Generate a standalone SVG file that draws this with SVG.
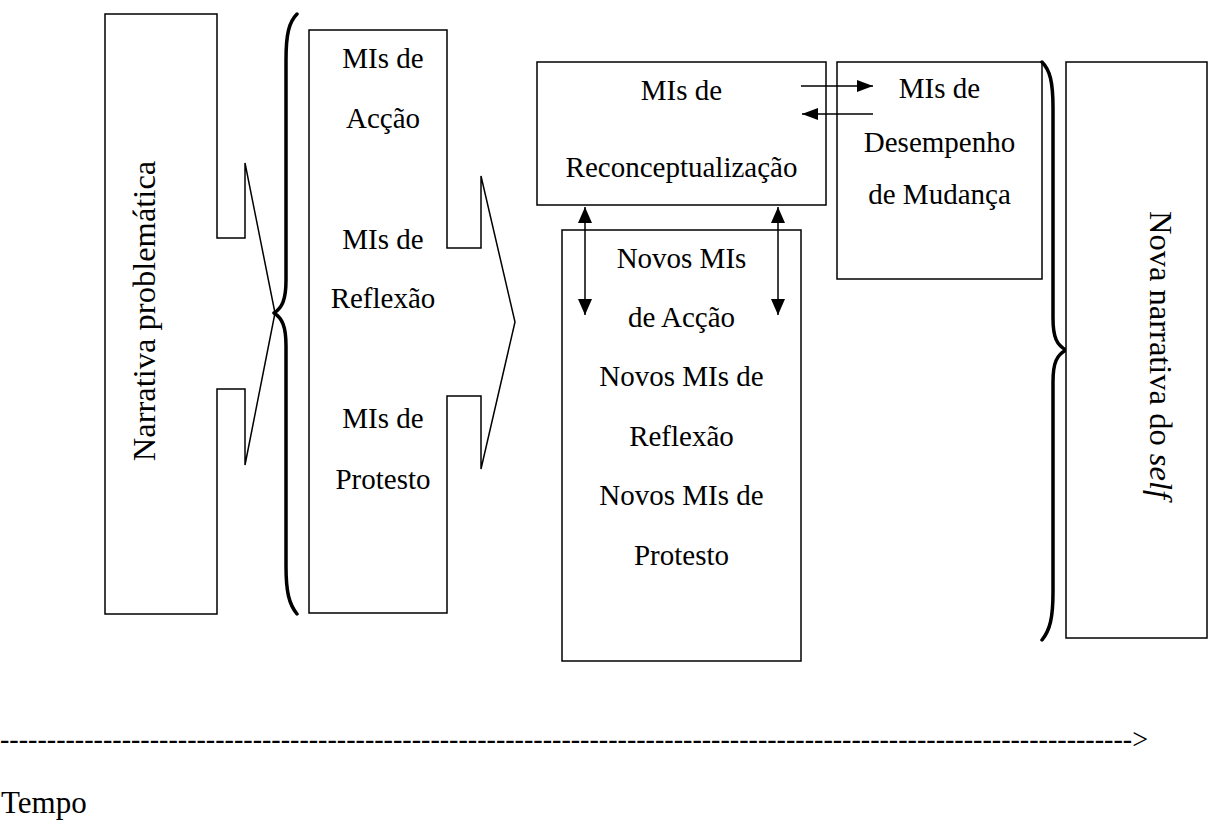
<svg xmlns="http://www.w3.org/2000/svg" width="1210" height="837" viewBox="0 0 1210 837">
<style>
  .shape { fill: #ffffff; stroke: #000000; stroke-width: 1.5; }
  .brace { fill: none; stroke: #000000; stroke-width: 3.5; stroke-linecap: round; stroke-linejoin: round; }
  .conn { fill: none; stroke: #000000; stroke-width: 1.5; }
  .t { font-family: "Liberation Serif", "Times New Roman", serif; font-size: 29px; fill: #000000; text-anchor: middle; }
  .big { font-size: 32.5px; }
  .plain { font-family: "Liberation Serif", "Times New Roman", serif; font-size: 29px; fill: #000000; }
  .tempo { font-size: 31px; }
</style>
<defs>
  <marker id="ah" viewBox="0 0 16 14" refX="16" refY="7" markerWidth="16" markerHeight="14" markerUnits="userSpaceOnUse" orient="auto-start-reverse">
    <path d="M0,0 L16,7 L0,14 z" fill="#000000"/>
  </marker>
  <marker id="ahs" viewBox="0 0 16 12" refX="16" refY="6" markerWidth="16" markerHeight="12" markerUnits="userSpaceOnUse" orient="auto-start-reverse">
    <path d="M0,0 L16,6 L0,12 z" fill="#000000"/>
  </marker>
</defs>
<rect width="1210" height="837" fill="#ffffff"/>

<g id="narrativa-problematica">
  <polygon class="shape" points="105,14 217,14 217,238 245,238 245,163 275,313 245,465 245,389 217,389 217,614 105,614"/>
  <text class="t big" transform="translate(155,311) rotate(-90)">Narrativa problemática</text>
</g>

<g id="brace-left">
  <path class="brace" d="M297,14 C289,22 286,34 286,60 L286,280 C286,300 282,308 274,313 C282,318 286,326 286,346 L286,566 C286,592 289,604 297,614"/>
</g>

<g id="mis-iniciais">
  <polygon class="shape" points="309,30 447,30 447,248 481,248 481,176 515,322 481,469 481,396 447,396 447,613 309,613"/>
  <text class="t" x="383" y="68">MIs de</text>
  <text class="t" x="383" y="128">Acção</text>
  <text class="t" x="383" y="249">MIs de</text>
  <text class="t" x="383" y="308">Reflexão</text>
  <text class="t" x="383" y="428">MIs de</text>
  <text class="t" x="383" y="489">Protesto</text>
</g>

<g id="reconceptualizacao">
  <rect class="shape" x="537" y="62" width="289" height="143"/>
  <text class="t" x="681.5" y="100">MIs de</text>
  <text class="t" x="681.5" y="177">Reconceptualização</text>
</g>

<g id="novos-mis">
  <rect class="shape" x="562" y="230" width="239" height="431"/>
  <text class="t" x="681.5" y="268">Novos MIs</text>
  <text class="t" x="681.5" y="327">de Acção</text>
  <text class="t" x="681.5" y="386">Novos MIs de</text>
  <text class="t" x="681.5" y="446">Reflexão</text>
  <text class="t" x="681.5" y="505">Novos MIs de</text>
  <text class="t" x="681.5" y="565">Protesto</text>
</g>

<g id="desempenho-mudanca">
  <rect class="shape" x="837" y="62" width="205" height="217"/>
  <text class="t" x="939.5" y="98">MIs de</text>
  <text class="t" x="939.5" y="152">Desempenho</text>
  <text class="t" x="939.5" y="204">de Mudança</text>
</g>

<g id="brace-right">
  <path class="brace" d="M1042,62 C1050,70 1053,82 1053,108 L1053,318 C1053,338 1057,345 1066,350 C1057,355 1053,362 1053,382 L1053,592 C1053,618 1050,630 1042,640"/>
</g>

<g id="nova-narrativa">
  <rect class="shape" x="1066" y="62" width="141" height="576"/>
  <text class="t big" transform="translate(1150,355) rotate(90)">Nova narrativa do <tspan font-style="italic">self</tspan></text>
</g>

<g id="connectors">
  <line class="conn" x1="801" y1="86" x2="873" y2="86" marker-end="url(#ahs)"/>
  <line class="conn" x1="873" y1="114" x2="802" y2="114" marker-end="url(#ahs)"/>
  <line class="conn" x1="585" y1="207" x2="585" y2="315" marker-start="url(#ah)" marker-end="url(#ah)"/>
  <line class="conn" x1="778" y1="207" x2="778" y2="315" marker-start="url(#ah)" marker-end="url(#ah)"/>
</g>

<g id="timeline">
  <text class="plain" x="0" y="749" textLength="1148" lengthAdjust="spacingAndGlyphs">-------------------------------------------------------------------------------------------------------------------------&gt;</text>
  <text class="plain tempo" x="1" y="813">Tempo</text>
</g>
</svg>
